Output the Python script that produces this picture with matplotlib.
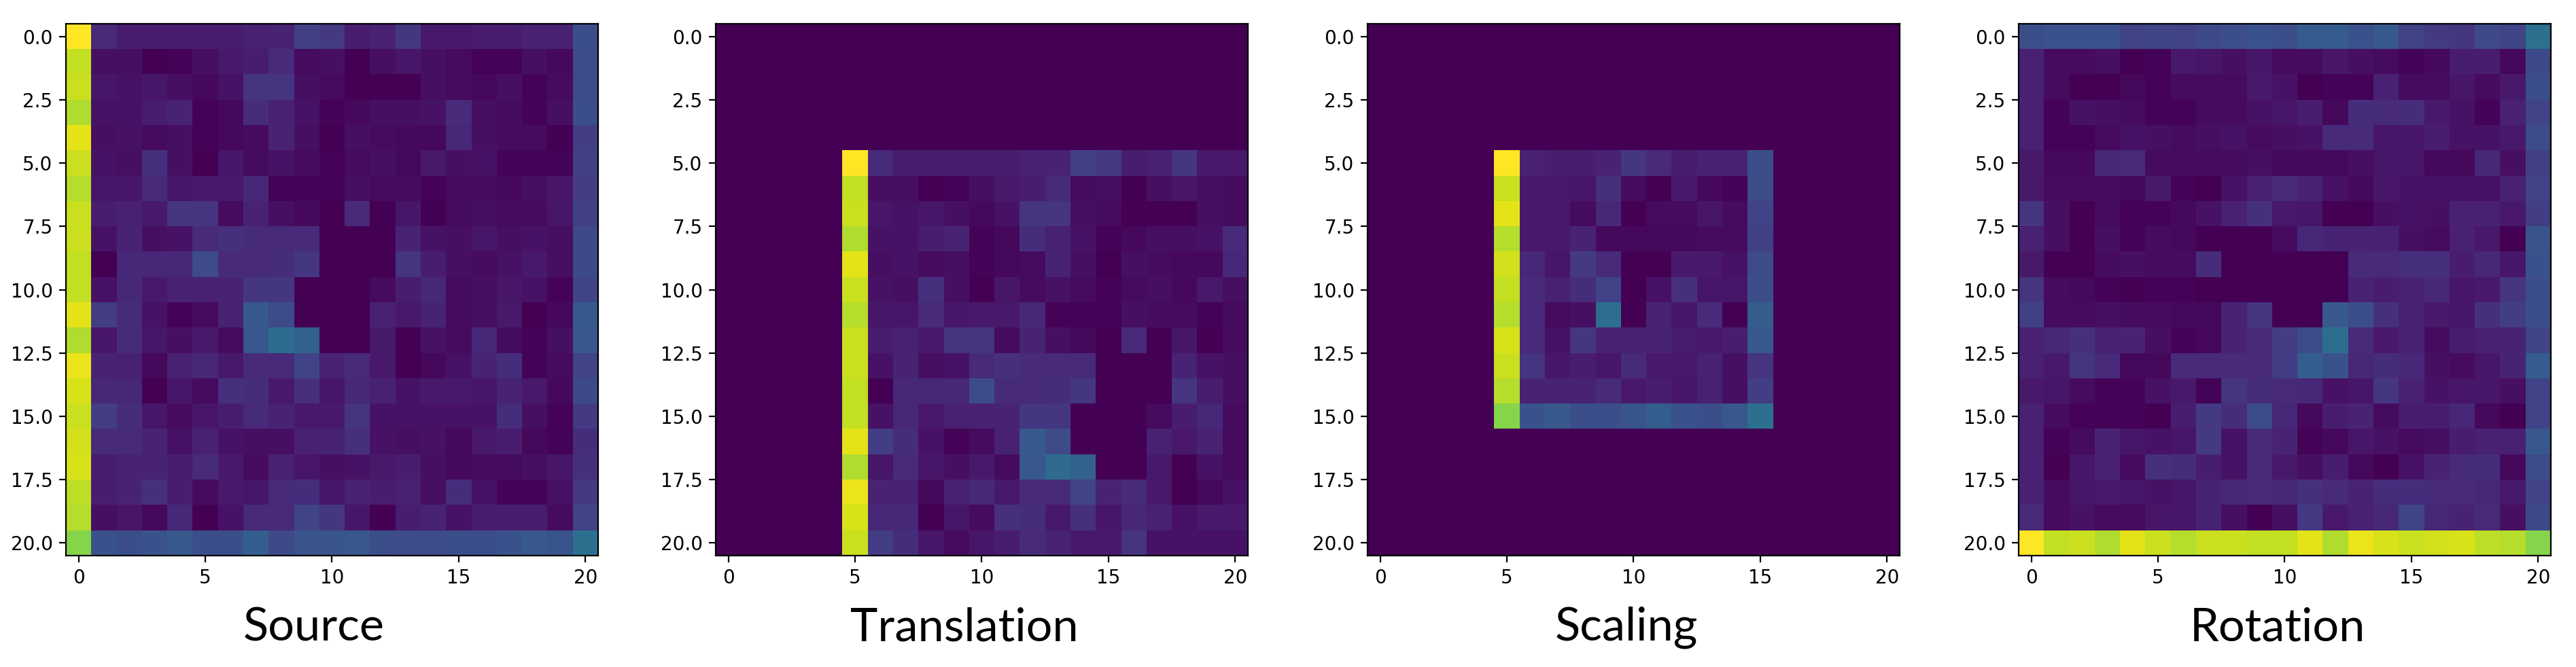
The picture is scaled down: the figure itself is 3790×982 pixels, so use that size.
import numpy as np
import matplotlib
matplotlib.use("Agg")
import matplotlib.pyplot as plt

W, H, DPI = 3791, 982, 200

source = [
 [100,12,8,8,8,8,8,9,10,19,17,8,9,16,7,7,8,8,9,9,24],
 [91,4,4,0,1,4,7,8,12,3,4,0,4,6,4,3,1,1,4,2,23],
 [92,6,5,6,4,2,5,15,15,4,3,0,0,0,4,3,2,4,1,3,23],
 [88,5,5,8,10,1,2,13,9,5,1,2,4,4,5,12,4,3,1,4,24],
 [96,4,5,3,4,1,2,3,10,4,0,4,3,2,2,11,4,3,3,0,18],
 [92,5,4,14,4,0,6,3,5,3,1,3,4,2,7,4,5,1,1,1,19],
 [89,6,6,12,6,7,7,11,1,1,1,4,3,3,1,3,3,2,4,6,18],
 [92,8,9,7,15,15,3,10,4,2,0,12,0,6,0,3,4,3,3,6,19],
 [92,5,10,4,5,12,14,12,12,12,0,0,0,10,5,4,6,4,5,4,22],
 [91,0,11,11,11,23,12,12,13,16,0,0,0,15,8,4,3,5,7,4,22],
 [91,5,11,7,9,9,10,16,16,0,0,0,3,8,11,3,4,6,5,1,21],
 [96,18,13,5,1,3,9,28,23,0,0,0,9,7,10,3,4,7,0,2,28],
 [88,6,12,6,4,7,3,27,35,31,0,0,7,0,5,3,11,3,1,4,27],
 [97,10,9,2,9,11,7,12,12,20,10,12,7,0,2,5,10,13,1,3,20],
 [94,11,11,0,6,3,14,13,7,14,6,11,9,5,7,7,6,10,7,2,22],
 [92,18,13,6,3,6,8,12,10,7,7,15,5,5,5,5,5,13,4,1,17],
 [93,12,12,10,5,9,5,4,4,9,10,14,5,4,5,2,7,8,2,1,13],
 [94,8,10,10,8,12,7,3,9,6,4,5,7,8,4,2,3,3,4,6,14],
 [90,8,10,14,8,3,7,6,12,13,6,9,8,9,4,13,5,1,1,5,17],
 [89,4,6,2,11,0,5,12,12,20,16,6,0,8,10,5,8,8,8,3,20],
 [82,25,24,25,28,24,24,30,22,26,26,27,24,23,23,24,24,25,27,26,37],
]

translation = [
 [0]*21, [0]*21, [0]*21, [0]*21, [0]*21,
 [0,0,0,0,0,100,12,8,8,8,8,8,9,10,19,17,8,9,16,7,7],
 [0,0,0,0,0,91,4,4,0,1,4,7,8,12,3,4,0,4,6,4,3],
 [0,0,0,0,0,92,6,5,6,4,2,5,15,15,4,3,0,0,0,4,3],
 [0,0,0,0,0,88,5,5,8,10,1,2,13,9,5,1,2,4,4,5,12],
 [0,0,0,0,0,96,4,5,3,4,1,2,3,10,4,0,4,3,2,2,11],
 [0,0,0,0,0,92,5,4,14,4,0,6,3,5,3,1,3,4,2,7,4],
 [0,0,0,0,0,89,6,6,12,6,7,7,11,1,1,1,4,3,3,1,3],
 [0,0,0,0,0,92,8,9,7,15,15,3,10,4,2,0,12,0,6,0,3],
 [0,0,0,0,0,92,5,10,4,5,12,14,12,12,12,0,0,0,10,5,4],
 [0,0,0,0,0,91,0,11,11,11,23,12,12,13,16,0,0,0,15,8,4],
 [0,0,0,0,0,91,5,11,7,9,9,10,16,16,0,0,0,3,8,11,3],
 [0,0,0,0,0,96,18,13,5,1,3,9,28,23,0,0,0,9,7,10,3],
 [0,0,0,0,0,88,6,12,6,4,7,3,27,35,31,0,0,7,0,5,3],
 [0,0,0,0,0,97,10,9,2,9,11,7,12,12,20,10,12,7,0,2,5],
 [0,0,0,0,0,94,11,11,0,6,3,14,13,7,14,6,11,9,5,7,7],
 [0,0,0,0,0,92,18,13,6,3,6,8,12,10,7,7,15,5,5,5,5],
]

scaling = [
 [0]*21, [0]*21, [0]*21, [0]*21, [0]*21,
 [0,0,0,0,0,100,9,8,8,10,16,12,8,10,9,24,0,0,0,0,0],
 [0,0,0,0,0,92,7,7,6,14,3,0,7,2,1,23,0,0,0,0,0],
 [0,0,0,0,0,96,7,7,3,11,0,3,3,6,3,20,0,0,0,0,0],
 [0,0,0,0,0,89,7,7,10,2,2,2,2,3,3,19,0,0,0,0,0],
 [0,0,0,0,0,93,11,6,17,12,0,0,7,7,5,23,0,0,0,0,0],
 [0,0,0,0,0,91,12,9,13,20,0,5,14,6,6,24,0,0,0,0,0],
 [0,0,0,0,0,89,12,3,4,36,0,10,6,12,0,29,0,0,0,0,0],
 [0,0,0,0,0,94,12,5,16,9,9,10,8,7,8,27,0,0,0,0,0],
 [0,0,0,0,0,92,15,6,8,6,12,7,7,9,4,15,0,0,0,0,0],
 [0,0,0,0,0,89,10,10,10,12,7,8,6,9,4,18,0,0,0,0,0],
 [0,0,0,0,0,82,25,28,24,24,26,30,25,24,27,37,0,0,0,0,0],
 [0]*21, [0]*21, [0]*21, [0]*21, [0]*21,
]

rotation = [
 [24,25,25,25,20,21,20,22,24,25,24,29,29,25,28,20,17,16,22,21,37],
 [9,3,3,4,0,1,7,6,4,6,3,3,6,4,3,1,2,8,8,2,22],
 [9,3,0,0,2,1,3,3,3,7,5,0,1,1,9,3,3,6,3,7,24],
 [9,1,5,4,3,1,1,3,3,5,6,8,2,13,12,13,7,5,1,9,20],
 [9,1,1,3,5,4,3,4,5,3,4,5,12,12,6,6,8,5,5,7,23],
 [7,2,2,11,12,3,3,3,3,4,2,2,2,4,6,6,2,2,11,4,19],
 [7,3,3,3,2,7,1,0,5,9,12,10,5,2,6,5,5,5,5,9,20],
 [15,4,0,3,1,1,2,5,9,14,7,6,0,0,4,5,4,9,9,7,18],
 [9,4,0,4,1,3,2,0,0,0,3,11,10,10,9,4,3,9,7,0,26],
 [7,0,0,3,4,3,3,13,0,0,0,0,0,12,12,14,14,8,11,6,25],
 [15,3,2,1,0,1,1,0,0,0,0,0,0,10,8,9,11,6,7,15,24],
 [19,3,3,4,3,3,2,2,10,15,0,0,28,24,14,9,7,6,14,18,24],
 [9,11,14,9,10,4,1,2,10,12,18,23,36,12,7,9,3,8,9,10,21],
 [9,7,15,12,2,2,12,12,12,12,18,30,25,11,13,11,4,3,6,10,29],
 [7,6,3,1,1,5,7,1,15,13,12,11,5,6,16,9,5,6,6,4,20],
 [9,3,1,1,1,0,8,17,13,23,11,2,8,10,3,8,8,11,2,0,20],
 [9,1,3,10,6,5,6,17,5,12,10,1,2,6,5,3,4,8,9,9,27],
 [9,0,6,9,3,14,13,8,5,12,7,4,8,2,0,5,10,12,13,2,23],
 [9,3,6,7,6,5,6,10,11,12,11,14,12,10,13,13,12,12,11,7,20],
 [12,3,5,3,3,6,6,10,4,0,4,17,7,9,11,21,11,10,12,4,22],
 [100,91,92,88,96,92,89,92,92,91,91,96,88,97,94,92,93,94,90,89,82],
]

titles = ["Source", "Translation", "Scaling", "Rotation"]
panels = [source, translation, scaling, rotation]
ax_left_px = [97, 1053, 2012, 2970]
title_cx_px = [462, 1419, 2393, 3351]
AX_SIZE, AX_TOP = 783, 35

fig = plt.figure(figsize=(W / DPI, H / DPI), dpi=DPI)
for data, title, left, cx in zip(panels, titles, ax_left_px, title_cx_px):
    ax = fig.add_axes([left / W, 1 - (AX_TOP + AX_SIZE) / H, AX_SIZE / W, AX_SIZE / H])
    ax.imshow(np.array(data), cmap="viridis", vmin=0, vmax=100, interpolation="nearest")
    ax.set_xticks([0, 5, 10, 15, 20])
    fig.text(cx / W, 1 - 924 / H, title, ha="center", va="center",
             family="Lato", fontsize=24.6, color="black")
fig.savefig("out.png", dpi=DPI)
